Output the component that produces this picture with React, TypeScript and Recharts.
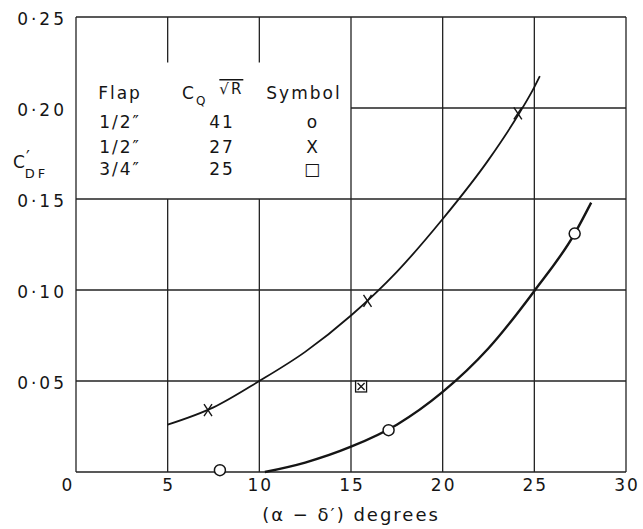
import { ComposedChart, Line, XAxis, YAxis, ReferenceLine, Customized } from 'recharts'

// x = (alpha - delta') degrees, y = C'DF
const curveHalfA = [
  { x: 10.3, y: 0.0 },
  { x: 12.5, y: 0.0052 },
  { x: 15, y: 0.0139 },
  { x: 17.5, y: 0.026 },
  { x: 20, y: 0.044 },
  { x: 22.5, y: 0.068 },
  { x: 25, y: 0.0995 },
  { x: 27.2, y: 0.131 },
  { x: 28.1, y: 0.148 },
]
const curveHalfB = [
  { x: 5, y: 0.026 },
  { x: 7.5, y: 0.0355 },
  { x: 10, y: 0.05 },
  { x: 12.5, y: 0.066 },
  { x: 15, y: 0.086 },
  { x: 17.5, y: 0.11 },
  { x: 20, y: 0.139 },
  { x: 22.5, y: 0.1715 },
  { x: 24.2, y: 0.1975 },
  { x: 25, y: 0.2115 },
  { x: 25.3, y: 0.2175 },
]
const circlePts = [
  { x: 7.85, y: 0.001 },
  { x: 17.05, y: 0.023 },
  { x: 27.2, y: 0.131 },
]
const crossPts = [
  { x: 7.2, y: 0.034 },
  { x: 15.9, y: 0.094 },
  { x: 24.1, y: 0.197 },
]
const squarePts = [{ x: 15.55, y: 0.047 }]

const xTicks = [0, 5, 10, 15, 20, 25, 30]
const yTicks = [0.05, 0.1, 0.15, 0.2, 0.25]

const legendFlap = ['1/2″', '1/2″', '3/4″']
const legendCq = ['41', '27', '25']
const legendSymbol = ['o', 'X', '□']

// grid segments [x1, y1, x2, y2]
const gridSegs = [
  [0, 0, 30, 0],
  [0, 0.05, 30, 0.05],
  [0, 0.1, 30, 0.1],
  [0, 0.15, 30, 0.15],
  [15, 0.2, 30, 0.2],
  [0, 0.25, 30, 0.25],
  [0, 0, 0, 0.25],
  [5, 0, 5, 0.15],
  [5, 0.225, 5, 0.25],
  [10, 0, 10, 0.15],
  [10, 0.225, 10, 0.25],
  [15, 0, 15, 0.25],
  [20, 0, 20, 0.25],
  [25, 0, 25, 0.25],
  [30, 0, 30, 0.25],
]

const ink = '#151515'
const font = '"DejaVu Sans", sans-serif'

const XTick = (props: any) => {
  const { x, y, payload } = props
  const v = payload.value
  return (
    <text x={v === 0 ? x - 8 : x + 1} y={y} dy="0.71em" textAnchor="middle"
      fontFamily={font} fontSize={17} letterSpacing={2} fill={ink}>
      {v}
    </text>
  )
}

const YTick = (props: any) => {
  const { x, y, payload } = props
  return (
    <text x={x} y={y + 2} dy="0.355em" textAnchor="end"
      fontFamily={font} fontSize={17} letterSpacing={3} fill={ink}>
      {payload.value.toFixed(2).replace('.', '·')}
    </text>
  )
}

const CircleDot = (props: any) => {
  const { cx, cy } = props
  if (cx == null || cy == null) return null
  return <circle cx={cx} cy={cy} r={5.5} fill="#fff" stroke={ink} strokeWidth={1.5} />
}

const CrossDot = (props: any) => {
  const { cx, cy } = props
  if (cx == null || cy == null) return null
  return (
    <g stroke={ink} strokeWidth={1.4}>
      <line x1={cx - 4} y1={cy - 6} x2={cx + 4} y2={cy + 6} />
      <line x1={cx + 4} y1={cy - 6} x2={cx - 4} y2={cy + 6} />
    </g>
  )
}

const SquareDot = (props: any) => {
  const { cx, cy } = props
  if (cx == null || cy == null) return null
  return (
    <g stroke={ink} strokeWidth={1.3} fill="#fff">
      <rect x={cx - 5.5} y={cy - 5.5} width={11} height={11} />
      <line x1={cx - 3.5} y1={cy - 3.5} x2={cx + 3.5} y2={cy + 3.5} />
      <line x1={cx + 3.5} y1={cy - 3.5} x2={cx - 3.5} y2={cy + 3.5} />
    </g>
  )
}

const LegendTable = (props: any) => {
  const left = props.offset?.left ?? 76
  const top = props.offset?.top ?? 17
  const colFlap = left + 44
  const colCq = left + 146
  const colSym = left + 237
  const rowY = [top + 111, top + 136, top + 158]
  const t = { fontFamily: font, fontSize: 17, letterSpacing: 2, fill: ink }
  return (
    <g>
      <text x={colFlap} y={top + 82} textAnchor="middle" {...t}>Flap</text>
      <text x={left + 106} y={top + 82} {...t}>
        C<tspan fontSize={12} dy={6}>Q</tspan>
        <tspan dy={-11} dx={12} fontSize={15} textDecoration="overline">√R</tspan>
      </text>
      <text x={colSym - 9} y={top + 82} textAnchor="middle" {...t}>Symbol</text>
      {legendFlap.map((f, i) => (
        <g key={i}>
          <text x={colFlap} y={rowY[i]} textAnchor="middle" {...t}>{f}</text>
          <text x={colCq} y={rowY[i]} textAnchor="middle" {...t}>{legendCq[i]}</text>
          <text x={colSym} y={rowY[i]} textAnchor="middle" {...t}>{legendSymbol[i]}</text>
        </g>
      ))}
    </g>
  )
}

const YLabel = (props: any) => {
  const vb = props.viewBox || { x: 10, y: 17 }
  const x = vb.x + 3
  const y = vb.y + 151
  return (
    <text x={x} y={y} fontFamily={font} fontSize={17} fill={ink}>
      C<tspan fontSize={17} dy={-5} dx={1}>′</tspan>
      <tspan fontSize={13} dy={15} dx={-5} letterSpacing={3}>DF</tspan>
    </text>
  )
}

export default function App() {
  return (
    <div style={{ position: 'absolute', left: 0, top: 0, background: '#fff' }}>
      <ComposedChart width={643} height={529} margin={{ top: 17, right: 17, bottom: 5, left: 10 }}>
        <XAxis type="number" dataKey="x" domain={[0, 30]} ticks={xTicks} axisLine={false}
          tickLine={false} tickSize={0} tickMargin={7} tick={<XTick />} height={52}
          label={{ value: '(α − δ′) degrees', position: 'insideBottom', offset: 3,
            style: { fontFamily: font, fontSize: 18, letterSpacing: 2, fill: ink } }} />
        <YAxis type="number" dataKey="y" domain={[0, 0.25]} ticks={yTicks} axisLine={false}
          tickLine={false} tickSize={0} tickMargin={9} tick={<YTick />} width={66}
          label={<YLabel />} />
        {gridSegs.map((s, i) => (
          <ReferenceLine key={i} segment={[{ x: s[0], y: s[1] }, { x: s[2], y: s[3] }]}
            stroke="#222" strokeWidth={1.3} ifOverflow="visible" />
        ))}
        <Line data={curveHalfB} dataKey="y" type="monotone" stroke={ink} strokeWidth={1.8}
          dot={false} isAnimationActive={false} />
        <Line data={curveHalfA} dataKey="y" type="monotone" stroke={ink} strokeWidth={2.4}
          dot={false} isAnimationActive={false} />
        <Line data={circlePts} dataKey="y" stroke="none" dot={<CircleDot />} isAnimationActive={false} />
        <Line data={crossPts} dataKey="y" stroke="none" dot={<CrossDot />} isAnimationActive={false} />
        <Line data={squarePts} dataKey="y" stroke="none" dot={<SquareDot />} isAnimationActive={false} />
        <Customized component={LegendTable} />
      </ComposedChart>
    </div>
  )
}
